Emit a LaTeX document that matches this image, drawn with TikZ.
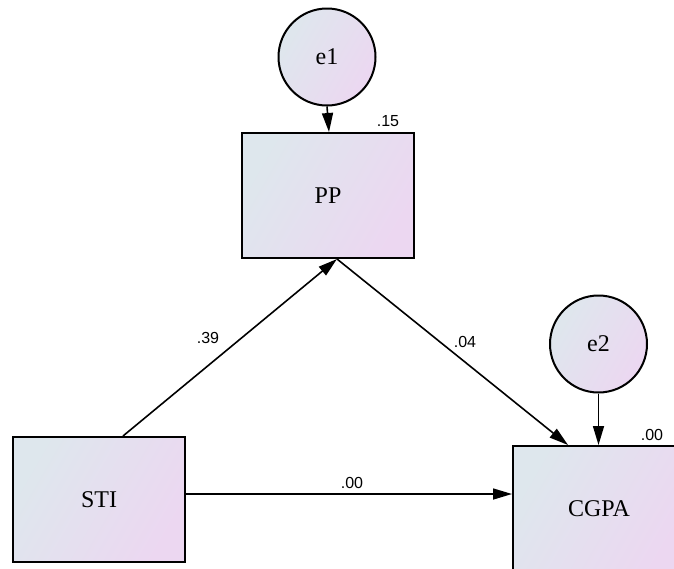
\documentclass[tikz,border=0pt]{standalone}
\usepackage{fontspec}
\setmainfont{Liberation Serif}
\newfontfamily\coeffont{Liberation Sans}
\usetikzlibrary{arrows.meta}
\definecolor{cA}{RGB}{222,231,237}
\definecolor{cB}{RGB}{236,215,241}
\tikzset{
  shadefill/.style={shade, left color=cA, right color=cB, shading angle=60},
  obsbox/.style={draw=black, line width=2pt, shadefill, minimum width=172pt, minimum height=125pt, inner sep=0pt, font=\fontsize{24}{26}\selectfont},
  errcirc/.style={circle, draw=black, line width=2pt, shadefill, minimum size=97pt, inner sep=0pt, font=\fontsize{24}{26}\selectfont},
  arr/.style={line width=1.6pt, -{Triangle[length=19pt,width=11pt]}},
  coef/.style={font=\coeffont\fontsize{16}{18}\selectfont, inner sep=0pt}
}
\begin{document}
\begin{tikzpicture}[x=1pt,y=-1pt]
\useasboundingbox (0,0) rectangle (674,568);
\clip (0,0) rectangle (674,568);
\node[errcirc] (e1) at (327,57) {e1};
\node[obsbox] (PP) at (328,195.5) {PP};
\node[errcirc] (e2) at (598.5,344) {e2};
\node[obsbox] (STI) at (99,499.5) {STI};
\node[obsbox] (CGPA) at (599,508.5) {CGPA};
\node[coef] (r1) at (388,121) {.15};
\node[coef] (r2) at (652,435) {.00};
\node[coef] (l1) at (208,338) {.39};
\node[coef] (l2) at (465,342) {.04};
\node[coef] (l3) at (352,483) {.00};
\draw[arr] (e1.south) -- ([xshift=1pt]PP.north);
\draw[arr] (e2.south) -- (e2.south |- CGPA.north);
\draw[arr] ([xshift=24pt]STI.north) -- ([xshift=9pt]PP.south);
\draw[arr] ([xshift=9pt]PP.south) -- ([xshift=-31pt]CGPA.north);
\draw[arr] ([yshift=5.5pt]STI.east) -- ([yshift=5.5pt]STI.east -| CGPA.west);
\end{tikzpicture}
\end{document}
